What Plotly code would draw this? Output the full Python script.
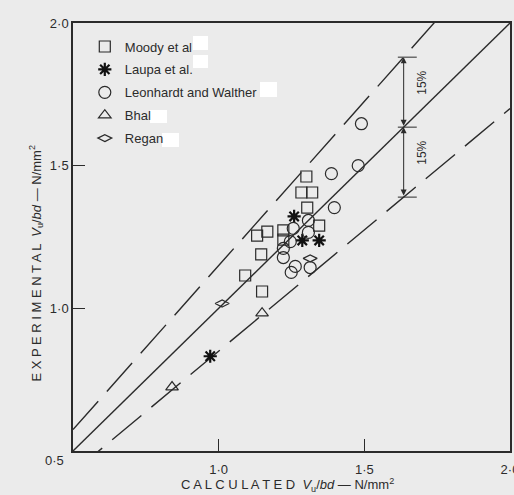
import plotly.graph_objects as go

# ---- data ----
moody_x = [1.301, 1.284, 1.321, 1.304, 1.345, 1.167, 1.132, 1.222, 1.222, 1.146, 1.091, 1.149]
moody_y = [1.462, 1.406, 1.406, 1.353, 1.290, 1.269, 1.255, 1.273, 1.241, 1.189, 1.115, 1.059]

laupa_x = [1.259, 1.287, 1.345, 0.971]
laupa_y = [1.322, 1.238, 1.238, 0.832]

leon_x = [1.490, 1.479, 1.387, 1.397, 1.308, 1.256, 1.308, 1.246, 1.222, 1.222, 1.263, 1.249, 1.314]
leon_y = [1.647, 1.500, 1.472, 1.353, 1.308, 1.280, 1.266, 1.234, 1.210, 1.178, 1.147, 1.126, 1.143]

bhal_x = [1.149, 0.840]
bhal_y = [0.983, 0.724]

regan_x = [1.012, 1.314]
regan_y = [1.017, 1.175]

series_names = ["Moody et al", "Laupa et al.", "Leonhardt and Walther", "Bhal", "Regan"]

line_x = [0.5, 2.0]
band = 0.15
annot_x = 1.635

tick_vals = [1.0, 1.5, 2.0]
tick_text = ["1·0", "1·5", "2·0"]

BG = "#ebebeb"
INK = "#2b2b2b"
FONT = "Liberation Sans, Arial, Helvetica, sans-serif"

fig = go.Figure()

# reference lines
fig.add_trace(go.Scatter(x=line_x, y=[v for v in line_x], mode="lines",
                         line=dict(color=INK, width=1.4), showlegend=False, hoverinfo="skip"))
fig.add_trace(go.Scatter(x=line_x, y=[v * (1 + band) for v in line_x], mode="lines",
                         line=dict(color=INK, width=1.4, dash="38px,13px"), showlegend=False, hoverinfo="skip"))
fig.add_trace(go.Scatter(x=line_x, y=[v * (1 - band) for v in line_x], mode="lines",
                         line=dict(color=INK, width=1.4, dash="38px,13px"), showlegend=False, hoverinfo="skip"))

mk = dict(color=INK, width=1.2)
fig.add_trace(go.Scatter(x=moody_x, y=moody_y, mode="markers", name=series_names[0], legendgroup="a",
                         marker=dict(symbol="square-open", size=11, color=INK, line=mk)))
fig.add_trace(go.Scatter(x=laupa_x, y=laupa_y, mode="markers", name=series_names[1], legendgroup="b",
                         marker=dict(symbol="asterisk-open", size=11, color="#111", line=dict(color="#111", width=2.2))))
fig.add_trace(go.Scatter(x=leon_x, y=leon_y, mode="markers", name=series_names[2], legendgroup="c",
                         marker=dict(symbol="circle-open", size=12, color=INK, line=mk)))
fig.add_trace(go.Scatter(x=bhal_x, y=bhal_y, mode="markers", name=series_names[3], legendgroup="d",
                         marker=dict(symbol="triangle-up-open", size=11, color=INK, line=mk)))
fig.add_trace(go.Scatter(x=regan_x, y=regan_y, mode="markers", name=series_names[4], legendgroup="e",
                         marker=dict(symbol="diamond-wide-open", size=10, color=INK, line=mk)))

# 15% dimension arrows
for y_a, y_b in [(annot_x * (1 + band), annot_x), (annot_x, annot_x * (1 - band))]:
    fig.add_annotation(x=annot_x, y=y_a, ax=annot_x, ay=y_b, xref="x", yref="y", axref="x", ayref="y",
                       text="", showarrow=True, arrowhead=2, startarrowhead=2, arrowside="end+start",
                       arrowsize=1.2, arrowwidth=1, arrowcolor=INK, standoff=0, startstandoff=0)
for yy in [annot_x * (1 + band), annot_x, annot_x * (1 - band)]:
    fig.add_shape(type="line", x0=annot_x - 0.02, x1=annot_x + 0.045, y0=yy, y1=yy,
                  xref="x", yref="y", line=dict(color=INK, width=1))
for yy in [annot_x * (1 + band / 2), annot_x * (1 - band / 2)]:
    fig.add_annotation(x=annot_x + 0.065, y=yy, yshift=9, xref="x", yref="y", text="15%", showarrow=False,
                       textangle=-90, font=dict(family=FONT, size=12, color=INK))

# x tick label 0.5, offset left of the corner
fig.add_annotation(x=0.5, y=0, xref="x", yref="paper", text="0·5", showarrow=False,
                   xshift=-19, yshift=-19, font=dict(family=FONT, size=13, color=INK))

# axis titles
fig.add_annotation(x=0.49, y=-0.079, xref="paper", yref="paper", yanchor="middle",
                   text="C A L C U L A T E D  <i>V</i><sub>u</sub>/<i>bd</i> — N/mm<sup>2</sup>",
                   showarrow=False, font=dict(family=FONT, size=13, color=INK))
fig.add_annotation(x=-0.085, y=0.44, xref="paper", yref="paper", textangle=-90, xanchor="center",
                   text="E X P E R I M E N T A L  <i>V</i><sub>u</sub>/<i>bd</i> — N/mm<sup>2</sup>",
                   showarrow=False, font=dict(family=FONT, size=13, color=INK))

# redaction boxes next to legend entries (as in the reference)
W, H, L, T = 514, 495, 73, 23
pw, ph = W - L - 4, H - T - 44
def px2paper(px, py):
    return (px - L) / pw, (H - 44 - py) / ph
for (x0, y0, x1, y1) in [(193, 36, 208, 50), (193, 55, 208, 68), (260, 82, 277, 97),
                         (150, 110, 167, 123), (162, 133, 179, 147)]:
    a0, b0 = px2paper(x0, y1)
    a1, b1 = px2paper(x1, y0)
    fig.add_shape(type="rect", xref="paper", yref="paper", x0=a0, x1=a1, y0=b0, y1=b1,
                  fillcolor="white", line=dict(width=0), layer="above")

axis_common = dict(range=[0.5, 2.0], showgrid=False, zeroline=False, showline=True, mirror=True,
                   linecolor=INK, linewidth=1.5, ticks="inside", ticklen=12, tickwidth=1,
                   tickcolor=INK, tickvals=tick_vals, ticktext=tick_text,
                   ticklabeloverflow="allow", automargin=False,
                   tickfont=dict(family=FONT, size=13, color=INK))

fig.update_layout(
    width=W, height=H,
    margin=dict(l=L, r=4, t=T, b=44, autoexpand=False),
    paper_bgcolor=BG, plot_bgcolor=BG,
    xaxis=dict(axis_common, ticklabelstandoff=6),
    yaxis=axis_common,
    legend=dict(x=0.027, y=0.98, xanchor="left", yanchor="top", bgcolor="rgba(0,0,0,0)",
                font=dict(family=FONT, size=13, color=INK), tracegroupgap=3),
    showlegend=True,
)

fig.write_html("out.html", config={"displayModeBar": False},
               post_script="document.body.style.margin='0';document.body.style.background='%s';" % BG)
